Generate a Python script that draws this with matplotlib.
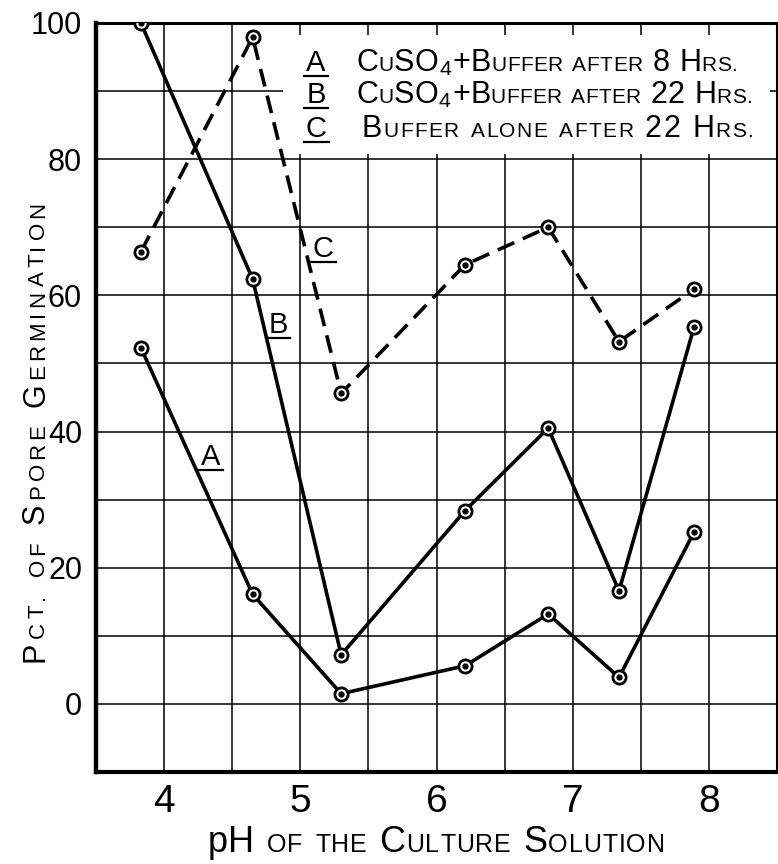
import re
import matplotlib
matplotlib.use("Agg")
import matplotlib.pyplot as plt
from matplotlib.lines import Line2D
from matplotlib.patches import Rectangle

plt.rcParams["font.family"] = ["Liberation Sans", "DejaVu Sans"]
plt.rcParams["mathtext.fontset"] = "custom"
plt.rcParams["mathtext.rm"] = "Liberation Sans"

# pH of the culture solution
ph = [3.83, 4.65, 5.30, 6.21, 6.82, 7.34, 7.89]
# percent of spore germination for each curve
curve_a = [52.3, 16.1, 1.5, 5.6, 13.2, 3.9, 25.2]
curve_b = [100.0, 62.4, 7.2, 28.4, 40.5, 16.6, 55.3]
curve_c = [66.4, 97.9, 45.6, 64.5, 70.0, 53.2, 60.9]

x_ticks = [4, 5, 6, 7, 8]
y_ticks = [0, 20, 40, 60, 80, 100]
legend_keys = ["A", "B", "C"]
legend_texts = ["CuSO$_4$+Buffer after 8 Hrs.",
                "CuSO$_4$+Buffer after 22 Hrs.",
                "Buffer alone after 22 Hrs."]


def small_caps(fig, x, y, s, big, small, length, rotation=0, center=False, literal=0):
    """Hand lettering look: lower case letters are drawn as smaller capitals.
    x, y in inches; the text is spread to the given length (inches)."""
    renderer = fig.canvas.get_renderer()
    tokens = re.findall(r"\$[^$]*\$|.", s)
    parts = []
    size = big
    for i, tok in enumerate(tokens):
        if tok == " ":
            parts.append(None)
            continue
        if i < literal:
            size = big
        elif tok.islower():
            size, tok = small, tok.upper()
        elif tok != ".":
            size = big
        t = fig.text(0, 0, tok, fontsize=size, rotation=rotation, rotation_mode="anchor",
                     ha="left", va="baseline", transform=fig.dpi_scale_trans)
        ext = t.get_window_extent(renderer)
        parts.append((t, (ext.height if rotation else ext.width) / fig.dpi))
    space = 0.3 * big / 72
    ink = sum(p[1] for p in parts if p) + space * parts.count(None)
    track = (length - ink) / (len(parts) - 1)
    pos = -length / 2 if center else 0.0
    for p in parts:
        if p is None:
            pos += space + track
            continue
        t, w = p
        t.set_position((x + pos, y) if not rotation else (x, y + pos))
        pos += w + track


def underlined(fig, x, y, letter, size):
    t = fig.text(x, y, letter, fontsize=size, ha="center", va="baseline",
                 transform=fig.dpi_scale_trans)
    w = t.get_window_extent(fig.canvas.get_renderer()).width / fig.dpi
    fig.add_artist(Line2D([x - w / 2 - 0.02, x + w / 2 + 0.02], [y - 0.05, y - 0.05],
                          color="black", lw=1.6, transform=fig.dpi_scale_trans))


fig = plt.figure(figsize=(7.78, 8.64), dpi=100)
ax = fig.add_axes([96 / 778, 1 - 772 / 864, (777 - 96) / 778, (772 - 23) / 864])

ax.set_xlim(3.5, 8.5)
ax.set_ylim(-10, 100)
ax.set_xticks(x_ticks)
ax.set_xticks([v + 0.5 for v in range(3, 9)], minor=True)
ax.set_yticks(y_ticks)
ax.set_yticks([v + 10 for v in range(-20, 100, 20)], minor=True)
ax.tick_params(which="both", length=0)
ax.tick_params(axis="x", labelsize=28, pad=9)
ax.tick_params(axis="y", labelsize=22, pad=10)
ax.grid(which="both", color="black", lw=1.1)
ax.set_axisbelow(True)
for side, lw in [("left", 3.2), ("bottom", 3.0), ("top", 2.2), ("right", 1.5)]:
    ax.spines[side].set_linewidth(lw)

# white patch behind the key
ax.add_patch(Rectangle((4.87, 80.7), 3.58, 17.5, facecolor="white", edgecolor="none", zorder=1))

for vals, style in [(curve_a, "-"), (curve_b, "-"), (curve_c, (0, (5, 2.6)))]:
    ax.plot(ph, vals, color="black", lw=2.6, ls=style, zorder=3)
    ax.plot(ph, vals, ls="none", marker="o", ms=9.5, mfc="white", mec="black", mew=2.0, zorder=4)
    ax.plot(ph, vals, ls="none", marker="o", ms=3.5, color="black", zorder=5)

# curve labels inside the plot
for letter, (lx, ly) in zip(legend_keys, [(2.11, 3.99), (2.78, 5.31), (3.23, 6.07)]):
    underlined(fig, lx, ly, letter, 21)

# key
for key, text, ky, kx, klen in zip(legend_keys, legend_texts, [7.93, 7.61, 7.27],
                                   [3.56, 3.56, 3.62], [3.81, 3.96, 3.91]):
    underlined(fig, 3.16, ky, key, 21)
    small_caps(fig, kx, ky, text, 22, 15, klen)

small_caps(fig, 0.44, 4.32, "Pct. of Spore Germination", 22, 16, 4.6, rotation=90, center=True)
small_caps(fig, 4.36, 0.12, "pH of the Culture Solution", 26, 18, 4.57, center=True, literal=2)

fig.savefig("out.png", dpi=100)
